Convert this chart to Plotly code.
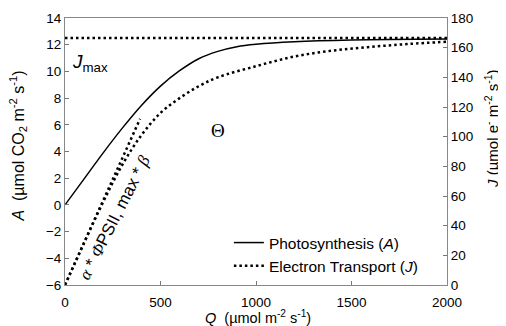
import plotly.graph_objects as go

# Photosynthesis (A), left axis
q_a = [0, 100, 200, 300, 400, 500, 600, 700, 800, 900, 1000, 1200, 1500, 2000]
a_vals = [0, 1.95, 3.9, 5.75, 7.45, 8.9, 10.05, 10.95, 11.5, 11.85, 12.03, 12.22, 12.35, 12.42]

# Electron transport (J), right axis
q_j = [0, 100, 200, 300, 400, 500, 600, 700, 800, 1000, 1200, 1400, 1600, 1800, 2000]
j_vals = [0, 28.5, 56, 81, 101, 116, 126, 134, 140, 147.5, 154, 158, 160.5, 162.5, 164]

# Initial slope line (alpha * PhiPSII,max * beta)
q_slope = [0, 393]
j_slope = [0, 112]

# Jmax line
q_jmax = [0, 2000]
j_jmax = [166.5, 166.5]

x_ticks = [0, 500, 1000, 1500, 2000]

FONT = "Liberation Sans, Arial, sans-serif"
SERIF = "Liberation Serif, Times New Roman, serif"
DOT = dict(color="black", width=2.5, dash="2.5px,3px")

fig = go.Figure()
fig.add_trace(go.Scatter(x=q_jmax, y=j_jmax, yaxis="y2", mode="lines",
                         line=DOT, showlegend=False))
fig.add_trace(go.Scatter(x=q_slope, y=j_slope, yaxis="y2", mode="lines",
                         line=DOT, showlegend=False))
fig.add_trace(go.Scatter(x=q_a, y=a_vals, mode="lines", name="Photosynthesis (<i>A</i>)",
                         line=dict(color="black", width=1.5, shape="spline")))
fig.add_trace(go.Scatter(x=q_j, y=j_vals, yaxis="y2", mode="lines", name="Electron Transport (<i>J</i>)",
                         line=dict(DOT, shape="spline")))

axis_common = dict(showgrid=False, zeroline=False, ticks="inside", ticklen=4,
                   tickcolor="#777", linecolor="#888", linewidth=1, automargin=False,
                   tickfont=dict(family=FONT, size=13.5, color="black"))

# page body has an 8px margin; plot area spans page x 65..447, y 18..285
fig.update_layout(
    width=498, height=318,
    margin=dict(l=57, r=59, t=10, b=41),
    paper_bgcolor="white", plot_bgcolor="white",
    font=dict(family=FONT, size=13, color="black"),
    xaxis=dict(range=[0, 2000], tickvals=x_ticks, showline=True, mirror=True,
               ticklabelstandoff=5, **axis_common),
    yaxis=dict(range=[-6, 14], dtick=2, showline=True, **axis_common),
    yaxis2=dict(range=[0, 180], dtick=20, overlaying="y", side="right", showline=True,
                **axis_common),
    legend=dict(x=0.429, y=0.221, xanchor="left", yanchor="top", bgcolor="rgba(0,0,0,0)",
                font=dict(family=FONT, size=15.5), tracegroupgap=0),
)

# axis titles
fig.add_annotation(x=0.505, y=-0.119, xref="paper", yref="paper", showarrow=False,
                   xanchor="center", yanchor="middle",
                   text="<i>Q</i>  (µmol m<sup>-2</sup> s<sup>-1</sup>)",
                   font=dict(family=FONT, size=14.5))
fig.add_annotation(x=-0.122, y=0.52, xref="paper", yref="paper", showarrow=False, textangle=-90,
                   xanchor="center", yanchor="middle",
                   text="<i>A</i>  (µmol CO<sub>2</sub> m<sup>-2</sup> s<sup>-1</sup>)",
                   font=dict(family=FONT, size=16))
fig.add_annotation(x=1.115, y=0.588, xref="paper", yref="paper", showarrow=False, textangle=-90,
                   xanchor="center", yanchor="middle",
                   text="<i>J</i> (µmol e<sup>-</sup> m<sup>-2</sup> s<sup>-1</sup>)",
                   font=dict(family=FONT, size=15))

# in-plot labels
fig.add_annotation(x=26, y=10.63, xref="x", yref="y", xanchor="left", showarrow=False,
                   text="<i>J</i><sub>max</sub>", font=dict(family=FONT, size=19))
fig.add_annotation(x=801, y=5.61, xref="x", yref="y", showarrow=False,
                   text="Θ", font=dict(family=SERIF, size=19))
fig.add_annotation(x=262, y=-0.98, xref="x", yref="y", showarrow=False, textangle=-63,
                   text="<span style='font-family:Liberation Serif'><i>α</i></span> * "
                        "<span style='font-family:Liberation Serif'><i>Φ</i></span>PSII, max * "
                        "<span style='font-family:Liberation Serif'><i>β</i></span>",
                   font=dict(family=FONT, size=17))

fig.write_html("out.html")
